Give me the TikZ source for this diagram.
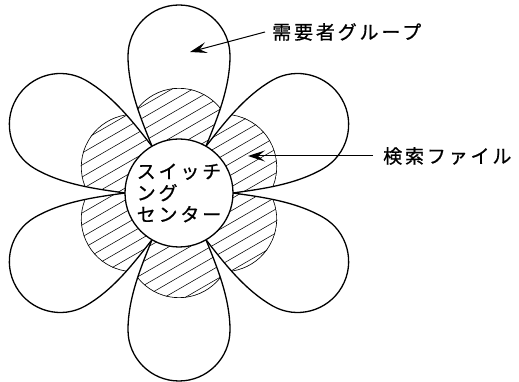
\documentclass[tikz,border=0pt]{standalone}
\usepackage{fontspec}
\newfontfamily\jp[LetterSpace=15, FakeBold=0.8]{Noto Sans CJK JP}
\usetikzlibrary{arrows.meta}

\begin{document}
\begin{tikzpicture}[x=1pt, y=1pt,
  every node/.style={font=\jp\fontsize{19}{21.5}\selectfont},
  outline/.style={line width=1.3pt},
  hatchline/.style={line width=0.55pt},
  arrow/.style={-{Stealth[length=17pt, width=11pt, inset=7pt]}, line width=1pt}
]
  \useasboundingbox (-179,-189) rectangle (340,193);

  % six petals, each with its hatched file area at the base
  \foreach \a in {90,30,-30,-90,-150,150} {
    \begin{scope}[rotate=\a-90]
      \begin{scope}
        \clip (-27,46.8) .. controls (-38,74) and (-51,105) .. (-51,137)
          arc[start angle=180, end angle=0, radius=51]
          .. controls (51,105) and (38,74) .. (27,46.8) -- cycle;
        \clip (0,52) circle[radius=53];
        \begin{scope}[rotate={90-(\a)}]
          \foreach \k in {-16,...,16}
            \draw[hatchline] (-120,\k*12-69.3) -- (120,\k*12+69.3);
        \end{scope}
        \draw[outline] (0,52) circle[radius=53];
      \end{scope}
      \draw[outline] (-27,46.8) .. controls (-38,74) and (-51,105) .. (-51,137)
        arc[start angle=180, end angle=0, radius=51]
        .. controls (51,105) and (38,74) .. (27,46.8);
    \end{scope}
  }

  \node[circle, draw, outline, fill=white, minimum size=108pt, inner sep=0pt,
        align=left] (hub) at (0,0) {スイッチ\\ング\\センター};

  \node[anchor=west, inner xsep=7pt, inner ysep=0pt] (users) at (86,161) {需要者グループ};
  \node[anchor=west, inner xsep=10pt, inner ysep=0pt] (files) at (194,37) {検索ファイル};
  \coordinate (userstip) at (11,141);
  \coordinate (filestip) at (69,37);
  \draw[arrow] (users.west) -- (userstip);
  \draw[arrow] (files.west) -- (filestip);
\end{tikzpicture}
\end{document}
